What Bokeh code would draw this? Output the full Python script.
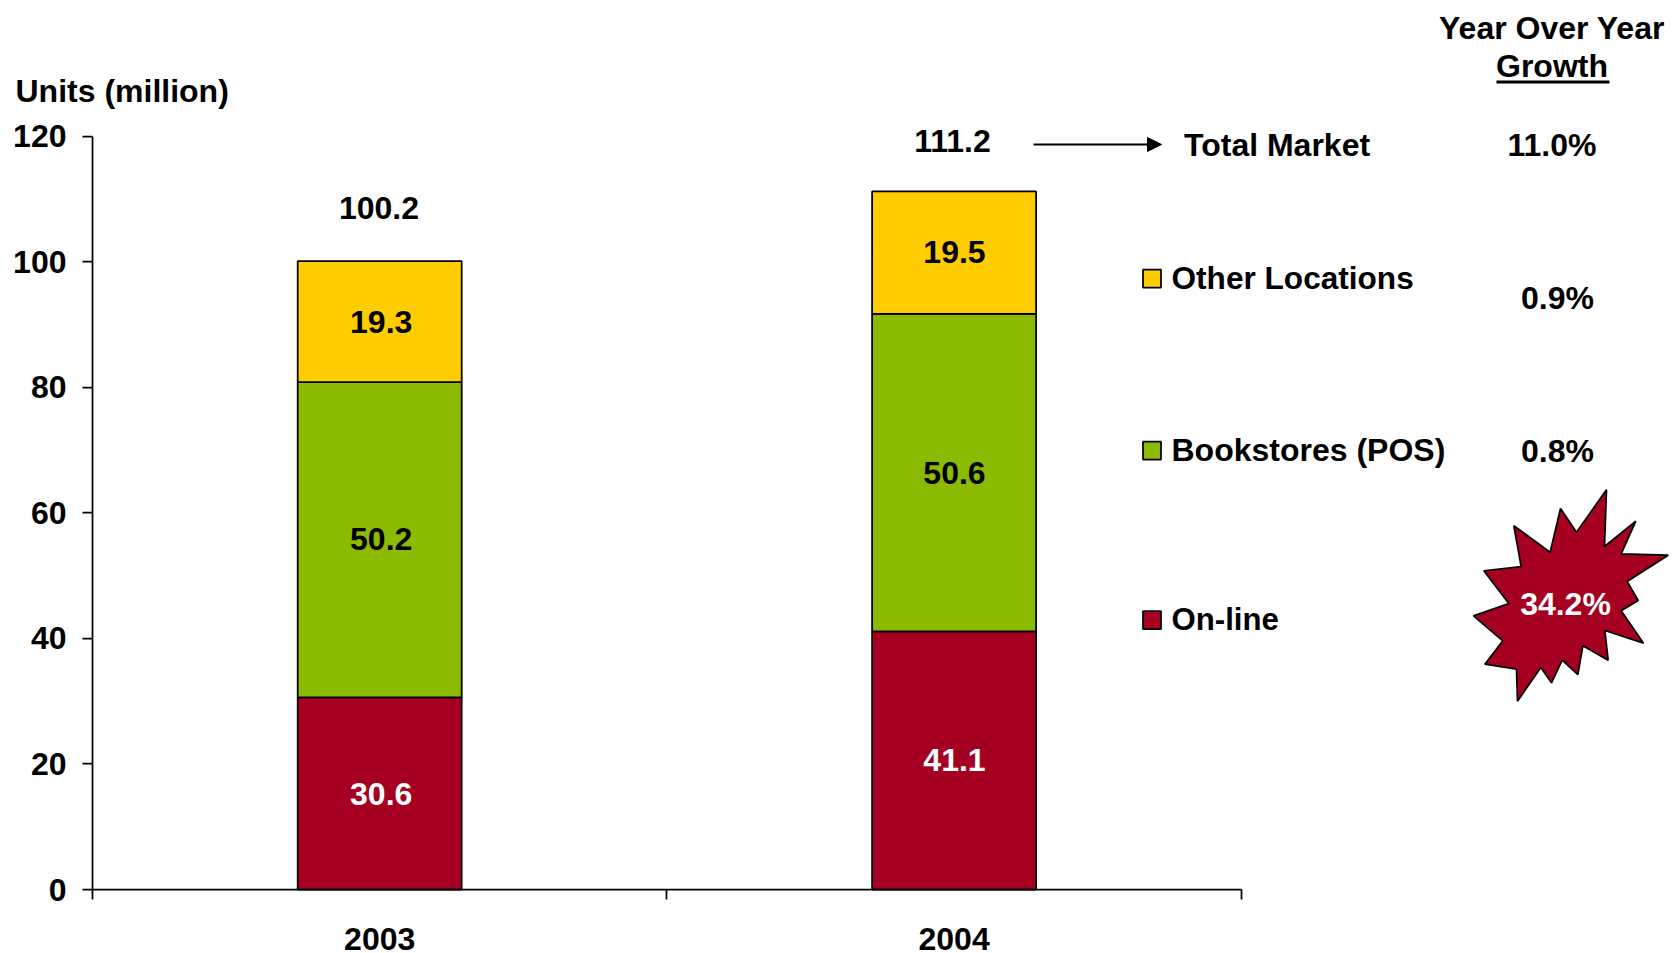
from bokeh.plotting import figure
from bokeh.models import FixedTicker, Range1d, Arrow, NormalHead
from bokeh.core.properties import value
from bokeh.embed import file_html
from bokeh.resources import INLINE

years = ["2003", "2004"]
online = [30.6, 41.1]
bookstores = [50.2, 50.6]
other = [19.3, 19.5]
totals = [100.2, 111.2]
y_ticks = [0, 20, 40, 60, 80, 100, 120]
series_names = ["On-line", "Bookstores (POS)", "Other Locations"]
series_colors = ["#A50021", "#8CBA00", "#FFCC00"]
growth = ["34.2%", "0.8%", "0.9%", "11.0%"]

FONT = "Liberation Sans"
FS = "32px"
W, H = 1672, 953
X0, Y0 = 92.0, 889.0       # picture px of the data origin
PX_X, PX_Y = 574.4, 6.278  # px per data unit

def dx(px):
    return (px - X0) / PX_X

def dy(py):
    return (Y0 - py) / PX_Y

# the frame fills the picture, so that no text is clipped; the axes sit at the data origin
p = figure(width=W, height=H, output_backend="svg", toolbar_location=None,
           min_border_left=0, min_border_right=0, min_border_top=0, min_border_bottom=0,
           x_range=Range1d(dx(0), dx(W)), y_range=Range1d(dy(H), dy(0)))
p.outline_line_color = None
p.grid.visible = False
p.background_fill_color = "white"

# stacked bars
bar_w = 164 / PX_X
xc = [0.5, 1.5]
bottoms = [0, 0]
for vals, color in zip([online, bookstores, other], series_colors):
    tops = [b + v for b, v in zip(bottoms, vals)]
    p.vbar(x=xc, width=bar_w, bottom=bottoms, top=tops, fill_color=color,
           line_color="black", line_width=1.75)
    bottoms = tops

# axes
xa = p.xaxis[0]
xa.fixed_location = 0
xa.bounds = (0, 2)
xa.ticker = FixedTicker(ticks=xc, minor_ticks=[0, 1, 2])
xa.major_label_overrides = {0.5: years[0], 1.5: years[1]}
xa.major_tick_in = 0
xa.major_tick_out = 0
xa.minor_tick_in = 0
xa.minor_tick_out = 10
xa.minor_tick_line_color = "black"
xa.minor_tick_line_width = 1.75
xa.axis_line_width = 1.75
xa.axis_line_color = "black"
xa.major_label_standoff = 28
xa.major_label_text_font = FONT
xa.major_label_text_font_style = "bold"
xa.major_label_text_font_size = FS
xa.major_label_text_color = "black"

ya = p.yaxis[0]
ya.fixed_location = 0
ya.bounds = (0, 120)
ya.ticker = FixedTicker(ticks=y_ticks)
ya.major_tick_in = 0
ya.major_tick_out = 10
ya.major_tick_line_width = 1.75
ya.major_tick_line_color = "black"
ya.minor_tick_line_color = None
ya.axis_line_width = 1.75
ya.axis_line_color = "black"
ya.major_label_standoff = 16
ya.major_label_text_font = FONT
ya.major_label_text_font_style = "bold"
ya.major_label_text_font_size = FS
ya.major_label_text_color = "black"


def txt(px, py, s, color="black", align="center", size=FS):
    p.text(x=[dx(px)], y=[dy(py - 1)], text=[s], text_font=value(FONT),
           text_font_style="bold", text_font_size=size, text_color=color,
           text_align=align, text_baseline="middle")


# data labels inside the bars
seg_labels = [
    (380.7, 794, online[0], "white"), (380.7, 539.5, bookstores[0], "black"), (380.7, 322, other[0], "black"),
    (954, 760, online[1], "white"), (954, 473, bookstores[1], "black"), (954, 252, other[1], "black"),
]
for px, py, v, c in seg_labels:
    txt(px, py, f"{v:.1f}", c)
txt(378.5, 208, f"{totals[0]:.1f}")
txt(952, 141.5, f"{totals[1]:.1f}")

txt(15, 91, "Units (million)", align="left")

# arrow to Total Market
p.add_layout(Arrow(x_start=dx(1033), y_start=dy(144), x_end=dx(1161), y_end=dy(144),
                   line_color="black", line_width=2,
                   end=NormalHead(size=14, fill_color="black", line_color="black")))
txt(1183.5, 145, "Total Market", align="left")

# legend
for name, color, py, fs in zip(series_names, series_colors, [619.5, 450, 278], ["31.2px", "32px", "31.6px"]):
    p.rect(x=[dx(1151.5)], y=[dy(py)], width=18 / PX_X, height=18 / PX_Y,
           fill_color=color, line_color="black", line_width=1.75)
    txt(1171, py, name, align="left", size=fs)

# growth column
txt(1551.5, 28, "Year Over Year")
txt(1551.5, 66, "Growth")
p.line(x=[dx(1496), dx(1609)], y=[dy(81.5), dy(81.5)], line_color="black", line_width=3)
txt(1551.5, 145, growth[3])
txt(1557, 298.5, growth[2])
txt(1557, 451, growth[1])

# starburst
star = [(618, 58), (612, 228), (706, 152), (662, 250), (803, 254), (680, 333), (713, 390), (662, 421),
        (729, 518), (613, 480), (623, 569), (547, 526), (532, 612), (485, 569), (453, 637), (421, 591),
        (351, 692), (348, 596), (253, 581), (307, 511), (219, 436), (325, 399), (250, 301), (362, 288),
        (340, 166), (449, 245), (480, 114), (528, 185)]
p.patch(x=[dx(1400 + a / 3) for a, b in star], y=[dy(470 + b / 3) for a, b in star],
        fill_color=series_colors[0], line_color="black", line_width=1.75)
txt(1565, 604.5, growth[0], "white")

open("out.html", "w").write(file_html(p, INLINE))
